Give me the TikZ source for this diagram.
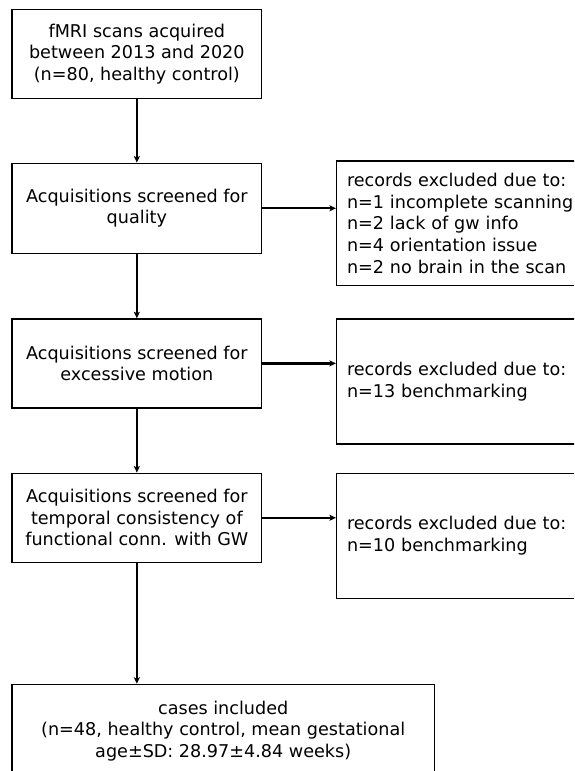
\documentclass[tikz,border=0pt]{standalone}
\usepackage{fontspec}
\setmainfont{DejaVu Sans}
\usetikzlibrary{arrows.meta}
\tikzset{
  box/.style={draw=black, line width=1.5pt, inner sep=0pt, align=center,
    font=\fontsize{17.6pt}{21.5pt}\selectfont, minimum width=249.7pt},
  rbox/.style={draw=black, line width=1.5pt, inner ysep=0pt, inner xsep=10.3pt,
    text width=243.4pt, align=left, font=\fontsize{17.6pt}{21.7pt}\selectfont,
    minimum height=125pt},
  arr/.style={line width=2.3pt, -{Stealth[length=6.5pt,width=6pt,inset=1.5pt]}}
}
\begin{document}
\begin{tikzpicture}[x=1pt,y=-1pt]
\useasboundingbox[fill=white] (0,0) rectangle (574,771);
\begin{scope}
\clip (0,0) rectangle (574,771);
\node[box, minimum height=89.4pt] (b1) at (136.85,54) {fMRI scans acquired\\between 2013 and 2020\\(n=80, healthy control)};
\node[box, minimum height=90pt] (b2) at (136.85,208.3) {Acquisitions screened for\\quality};
\node[box, minimum height=88.7pt] (b3) at (136.85,363.4) {Acquisitions screened for\\excessive motion};
\node[box, minimum height=89pt] (b4) at (136.85,517.8) {Acquisitions screened for\\temporal consistency of\\functional conn. with GW};
\node[box, minimum width=422.3pt, minimum height=93pt] (b5) at (223.2,731) {cases included\\(n=48, healthy control, mean gestational\\age±SD: 28.97±4.84 weeks)};
\node[rbox, minimum height=124.7pt] (r1) at (468.7,223.3) {records excluded due to:\\n=1 incomplete scanning\\n=2 lack of gw info\\n=4 orientation issue\\n=2 no brain in the scan};
\node[rbox] (r2) at (468.7,381.5) {records excluded due to:\\n=13 benchmarking};
\node[rbox] (r3) at (468.7,535.8) {records excluded due to:\\n=10 benchmarking};
\draw[arr] (b1) -- (b2);
\draw[arr] (b2) -- (b3);
\draw[arr] (b3) -- (b4);
\draw[arr] (b4.south) -- (b4.south |- b5.north);
\draw[arr] (b2.east) -- (b2.east -| r1.west);
\draw[arr] (b3.east) -- (b3.east -| r2.west);
\draw[arr] (b4.east) -- (b4.east -| r3.west);
\end{scope}
\end{tikzpicture}
\end{document}
